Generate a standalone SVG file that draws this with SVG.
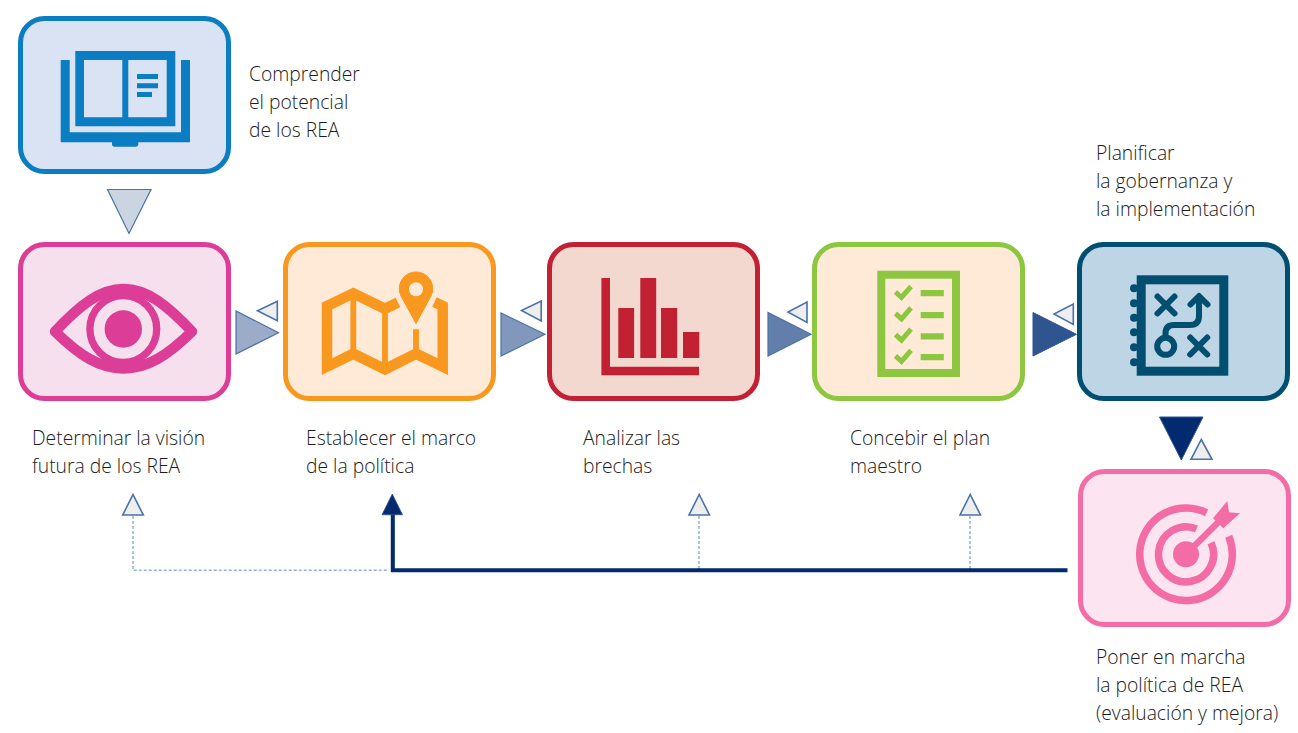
<svg xmlns="http://www.w3.org/2000/svg" width="1298" height="733" viewBox="0 0 1298 733">
<style>
.box{stroke-width:5}
text{font-family:"Open Sans","Noto Sans","Liberation Sans",sans-serif;font-weight:300;font-size:19.3px;fill:#1c1c1c}
.sm{fill:#eeeeee;stroke:#4a72a8;stroke-width:1.6}
.tri{stroke:#4a72a8;stroke-width:1.2}
.n{fill:none}
</style>
<rect width="1298" height="733" fill="#ffffff"/>
<g id="connectors">
<polygon points="107.5,189.5 151,189.5 129,233.5" fill="#cbd5e2" class="tri"/>
<polygon points="236,311 236,354 278.5,332.7" fill="#9babc8" class="tri"/>
<polygon class="sm" points="277.3,301.3 277.3,320.7 257.5,310.7"/>
<polygon points="501,313 501,356 545,334.3" fill="#8197bb" class="tri"/>
<polygon class="sm" points="541.2,301 541.2,321 521.5,310.5"/>
<polygon points="768,312.5 768,356 811,334.3" fill="#627fab" class="tri"/>
<polygon class="sm" points="807,302 807,322.5 788,312"/>
<polygon points="1033,312.5 1033,356 1076.5,334.3" fill="#2f5590" stroke="#2f5590" stroke-width="1"/>
<polygon class="sm" points="1073.3,304 1073.3,324.5 1054,314"/>
<polygon points="1159.5,417 1203,417 1181.3,460" fill="#012a6f" stroke="#2f5590" stroke-width="1"/>
<polygon class="sm" points="1191,459.3 1212,459.3 1201.3,439.5"/>
<path class="n" d="M133 516V570.3H388M699 516V570M970 516V570" stroke="#8fb0e2" stroke-width="1.5" stroke-dasharray="3 2"/>
<polygon class="sm" points="122.7,515 143.3,515 133,494.5"/>
<polygon class="sm" points="689,515 709.5,515 699.2,494.5"/>
<polygon class="sm" points="960,515 980.5,515 970.2,494.5"/>
<path class="n" d="M392.8 514V570.3H1067.5" stroke="#012a6f" stroke-width="4"/>
<polygon points="382,514.8 402.5,514.8 392.3,494" fill="#012a6f" stroke="#2f5590" stroke-width="0.8"/>
</g>
<g id="node-comprender">
<rect class="box" x="20.5" y="18.5" width="208" height="153" rx="24" fill="#d9e3f3" stroke="#0a7dc3"/>
<path fill="#0a7dc3" fill-rule="evenodd" d="M75.3 51H175.3V126.3H75.3ZM84 60V117.3H122.3V60ZM128.3 60V117.3H166.7V60Z"/>
<path fill="#0a7dc3" d="M60.7 60H69.7V132.3H181V60H190V142.3H138.3V144A2.7 2.7 0 0 1 135.6 146.7H114.7A2.7 2.7 0 0 1 112 144V142.3H60.7Z"/>
<path fill="#0a7dc3" d="M137 74H158V79H137ZM137 83.2H158V88.2H137ZM137 92H152V97H137Z"/>
<text x="249" y="81">Comprender</text>
<text x="249" y="109">el potencial</text>
<text x="249" y="137">de los REA</text>
</g>
<g id="node-determinar">
<rect class="box" x="20.5" y="244.5" width="208" height="154" rx="24" fill="#f6e0ee" stroke="#dc3d96"/>
<path class="n" d="M55 331.5C80 305 100 289 123.5 289C147 289 167 305 192 331.5C167 356 147 368.5 123.5 368.5C100 368.5 80 356 55 331.5Z" stroke="#dc3d96" stroke-width="10.5" stroke-linejoin="round"/>
<circle class="n" cx="123.3" cy="329" r="33.4" stroke="#dc3d96" stroke-width="7.3"/>
<circle cx="123.3" cy="329" r="18.7" fill="#dc3d96"/>
<text x="32" y="445">Determinar la visión</text>
<text x="32" y="473">futura de los REA</text>
</g>
<g id="node-establecer">
<rect class="box" x="285.5" y="244.5" width="208" height="154" rx="24" fill="#ffead8" stroke="#f9981f"/>
<path class="n" d="M398 302.5L385 308.8L353.3 293.3L327 306V366.6L353.3 353.7L385 369.3L416 353.7L442.7 366.6V306L434.5 302" stroke="#f9981f" stroke-width="10.5"/>
<path class="n" d="M353.3 292V355M385 308V370M416 329.3V355" stroke="#f9981f" stroke-width="5.8"/>
<path d="M416 323.5L401 296A16.7 16.7 0 1 1 431 296Z" fill="#f9981f" stroke="#f9981f" stroke-width="1" stroke-linejoin="round"/>
<circle cx="416" cy="289.3" r="7" fill="#ffead8"/>
<text x="306" y="445">Establecer el marco</text>
<text x="306" y="473">de la política</text>
</g>
<g id="node-analizar">
<rect class="box" x="549.5" y="244.5" width="208" height="154" rx="24" fill="#f3d8d0" stroke="#c22033"/>
<path fill="#c22033" d="M601.4 278H610V366.7H699V375.3H601.4ZM618.3 308H634.1V358H618.3ZM640.3 278H656.2V358H640.3ZM661 308H677.2V358H661ZM683 332H699.3V358H683Z"/>
<text x="583" y="445">Analizar las</text>
<text x="583" y="473">brechas</text>
</g>
<g id="node-concebir">
<rect class="box" x="814.5" y="244.5" width="208" height="154" rx="24" fill="#ffead8" stroke="#8dc63f"/>
<rect class="n" x="881.3" y="274.7" width="74.7" height="98.3" stroke="#8dc63f" stroke-width="8"/>
<path fill="#8dc63f" d="M920.7 290H943.8V296.3H920.7ZM920.7 312H943.8V318.3H920.7ZM920.7 333.3H943.8V339.6H920.7ZM920.7 354H943.8V360.3H920.7Z"/>
<path class="n" stroke="#8dc63f" stroke-width="5" d="M895.5 292L901.5 297.5L911 286.5M895.5 313.3L901.5 318.8L911 307.8M895.5 334.6L901.5 340.1L911 329.1M895.5 355.9L901.5 361.4L911 350.4"/>
<text x="850" y="445">Concebir el plan</text>
<text x="850" y="473">maestro</text>
</g>
<g id="node-planificar">
<rect class="box" x="1079.5" y="244.5" width="208" height="154" rx="24" fill="#bdd5e5" stroke="#004f71"/>
<rect class="n" x="1141.2" y="279.8" width="82.6" height="91.4" stroke="#004f71" stroke-width="9"/>
<g fill="#004f71">
<circle cx="1134" cy="288.3" r="4"/><circle cx="1134" cy="303.3" r="4"/><circle cx="1134" cy="317.7" r="4"/><circle cx="1134" cy="332.3" r="4"/><circle cx="1134" cy="347.3" r="4"/><circle cx="1134" cy="362.3" r="4"/>
</g>
<path class="n" stroke="#004f71" stroke-width="6" stroke-linecap="round" stroke-linejoin="round" d="M1157.5 296.5L1174.5 313.5M1174.5 296.5L1157.5 313.5M1190.2 337.5L1207.2 354.5M1207.2 337.5L1190.2 354.5M1165.5 337V333.5Q1165.5 325 1174 325H1190Q1199 325 1199 316V297M1190.5 304.5L1199 296L1207.5 304.5"/>
<circle class="n" cx="1165.7" cy="346.3" r="8.5" stroke="#004f71" stroke-width="6"/>
<text x="1096" y="160">Planificar</text>
<text x="1096" y="188">la gobernanza y</text>
<text x="1096" y="216">la implementación</text>
</g>
<g id="node-poner">
<rect class="box" x="1080.5" y="471.5" width="208" height="153" rx="24" fill="#fce5f0" stroke="#f36ca6"/>
<path class="n" stroke="#f36ca6" stroke-width="7.5" d="M1228.7 536.3A46.3 46.3 0 1 1 1206.6 512.8M1211 542.8A27.5 27.5 0 1 1 1196.5 528.9"/>
<circle cx="1186" cy="554.3" r="13" fill="#f36ca6"/>
<path class="n" stroke="#f36ca6" stroke-width="6.5" d="M1186 554.3L1219 521.5"/>
<polygon fill="#f36ca6" points="1213,518.3 1227.3,501 1229,512.3 1240,513.3 1223.3,528.3"/>
<text x="1096" y="664">Poner en marcha</text>
<text x="1096" y="692">la política de REA</text>
<text x="1096" y="720">(evaluación y mejora)</text>
</g>
</svg>
